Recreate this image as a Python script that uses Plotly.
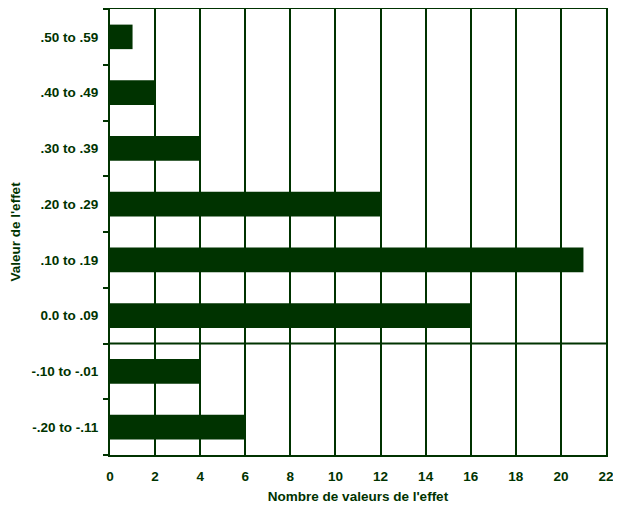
import plotly.graph_objects as go

# Effect-size bins (bottom to top) and counts
categories = ["-.20 to -.11", "-.10 to -.01", "0.0 to .09", ".10 to .19",
              ".20 to .29", ".30 to .39", ".40 to .49", ".50 to .59"]
counts = [6, 4, 16, 21, 12, 4, 2, 1]

green = "#003300"
fam = "Liberation Sans, Arial, sans-serif"
font = dict(family=fam, size=13.5, color=green)
tickfont = dict(family=fam, size=13.5, color=green, weight="bold")

fig = go.Figure(go.Bar(
    x=counts,
    y=categories,
    orientation="h",
    marker=dict(color=green, line=dict(width=0)),
    width=0.44,
))

# separator between positive and negative bins
fig.add_shape(type="line", xref="paper", yref="y", x0=0, x1=1, y0=1.5, y1=1.5,
              line=dict(color=green, width=2))

fig.update_xaxes(
    range=[0, 22], dtick=2, tick0=0,
    showgrid=True, gridcolor=green, gridwidth=2,
    showline=True, linecolor=green, linewidth=2, mirror=True,
    ticks="", zeroline=False, automargin=False,
    tickfont=tickfont, ticklabelstandoff=8,
    title=dict(text="<b>Nombre de valeurs de l'effet</b>", font=font, standoff=8),
)
fig.update_yaxes(
    categoryorder="array", categoryarray=categories,
    tickson="boundaries", ticks="outside", ticklen=5, tickwidth=2, tickcolor=green,
    showline=True, linecolor=green, linewidth=2, mirror=True,
    showgrid=False, automargin=False,
    tickfont=tickfont, ticklabelstandoff=7,
    title=dict(text="<b>Valeur de l'effet</b>", font=font, standoff=8),
)

# page body adds an 8px offset, so the figure is sized to compensate
fig.update_layout(
    width=613, height=506,
    margin=dict(l=102, r=15, t=1, b=59),
    plot_bgcolor="white", paper_bgcolor="white",
    showlegend=False, font=font, bargap=0.56,
)

fig.write_html("out.html")
